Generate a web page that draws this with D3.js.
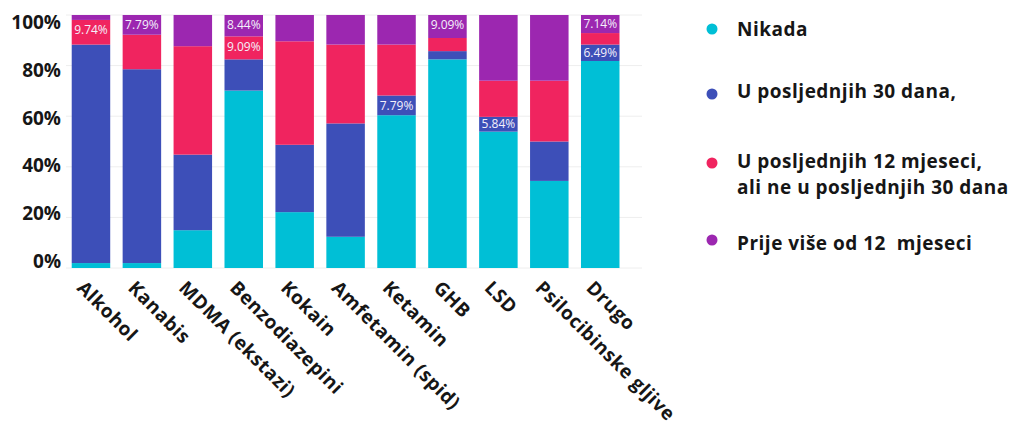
<!DOCTYPE html>
<html>
<head>
<meta charset="utf-8">
<script src="https://cdn.jsdelivr.net/npm/d3@7"></script>
<style>
  html, body { margin: 0; padding: 0; background: #fff; }
  svg { display: block; }
  .legend text { white-space: pre; }
</style>
</head>
<body>
<svg id="chart" width="1020" height="431"></svg>
<script>
// Categories (substances) along the x axis
const categories = ["Alkohol", "Kanabis", "MDMA (ekstazi)", "Benzodiazepini", "Kokain",
  "Amfetamin (spid)", "Ketamin", "GHB", "LSD", "Psilocibinske gljive", "Drugo"];

// Share of respondents (%) per answer
const nikada  = [1.95, 1.95, 14.94, 70.13, 22.08, 12.34, 60.39, 82.47, 53.90, 34.42, 81.82];
const dana30  = [86.36, 76.62, 29.87, 12.34, 26.62, 44.81, 7.79, 3.25, 5.84, 15.58, 6.49];
const mjeseci12 = [9.74, 13.64, 42.86, 9.09, 40.91, 31.17, 20.13, 5.19, 14.29, 24.03, 4.55];
const prije   = [1.95, 7.79, 12.34, 8.44, 10.39, 11.69, 11.69, 9.09, 25.97, 25.97, 7.14];

const seriesNames = ["Nikada", "U posljednjih 30 dana,",
  "U posljednjih 12 mjeseci,\nali ne u posljednjih 30 dana", "Prije više od 12  mjeseci"];
const seriesColors = ["#00BFD6", "#3D4FB8", "#F0245F", "#9C27B0"];
const yTicks = [0, 20, 40, 60, 80, 100];

const keys = ["nikada", "dana30", "mjeseci12", "prije"];
const columns = [nikada, dana30, mjeseci12, prije];
const rows = categories.map((c, i) => {
  const r = { cat: c };
  keys.forEach((k, j) => r[k] = columns[j][i]);
  return r;
});

const svg = d3.select("#chart");

const x = d3.scaleBand().domain(categories)
  .range([65.5, 625.7]).paddingInner(0.244).paddingOuter(0.122);
const y = d3.scaleLinear().domain([0, 100]).range([268, 15]);
// tick labels sit on their own slightly tighter spacing
const yLabel = d3.scaleLinear().domain([0, 100]).range([261.3, 22.5]);

// gridlines
svg.append("g").selectAll("line").data(yTicks).join("line")
  .attr("x1", 66).attr("x2", 642)
  .attr("y1", d => y(d)).attr("y2", d => y(d))
  .attr("stroke", "#eeeeee").attr("stroke-width", 1);

// y tick labels
const yAxis = svg.append("g").attr("transform", "translate(61,0)")
  .call(d3.axisLeft(yLabel).tickValues(yTicks).tickSize(0).tickPadding(0)
    .tickFormat(d => d + "%"));
yAxis.select(".domain").remove();
yAxis.selectAll("text")
  .attr("font-family", "'Open Sans', sans-serif")
  .attr("font-weight", 700)
  .attr("font-size", 19)
  .attr("fill", "#161616");

// stacked bars
const stacked = d3.stack().keys(keys)(rows);
const layers = svg.append("g").selectAll("g").data(stacked).join("g")
  .attr("fill", (d, i) => seriesColors[i]);
layers.selectAll("rect").data(d => d).join("rect")
  .attr("x", d => x(d.data.cat))
  .attr("width", x.bandwidth())
  .attr("y", d => y(d[1]))
  .attr("height", d => y(d[0]) - y(d[1]));

// value labels on the thin segments that have room for them
const labelData = [];
stacked.forEach(layer => layer.forEach(d => {
  const v = d.data[layer.key];
  if (v < 10 && v > 5.5) labelData.push({ cat: d.data.cat, v: v, top: d[1], bottom: d[0] });
}));
svg.append("g").selectAll("text").data(labelData).join("text")
  .attr("x", d => x(d.cat) + x.bandwidth() / 2)
  .attr("y", d => {
    const t = y(d.top), h = y(d.bottom) - y(d.top);
    return t + Math.min(10, h / 2);
  })
  .attr("dy", "0.35em")
  .attr("text-anchor", "middle")
  .attr("font-family", "'Open Sans', sans-serif")
  .attr("font-size", 12)
  .attr("fill", "#f4f0fb")
  .text(d => d.v.toFixed(2) + "%");

// rotated category labels
svg.append("g").selectAll("text").data(categories).join("text")
  .attr("transform", d => `translate(${x(d) + x.bandwidth() / 2 - 15},289) rotate(45)`)
  .attr("text-anchor", "start")
  .attr("font-family", "'Open Sans', sans-serif")
  .attr("font-weight", 700)
  .attr("font-size", 19)
  .attr("letter-spacing", "0.5px")
  .attr("fill", "#161616")
  .text(d => d);

// legend
const legendDot = [29, 94, 163, 240];
const legendBase = [36, 98, 168, 250];
const legend = svg.append("g").attr("class", "legend");
legend.selectAll("circle").data(seriesNames).join("circle")
  .attr("cx", 712).attr("cy", (d, i) => legendDot[i]).attr("r", 5.5)
  .attr("fill", (d, i) => seriesColors[i]);
legend.selectAll("text").data(seriesNames).join("text")
  .attr("x", 737).attr("y", (d, i) => legendBase[i])
  .attr("font-family", "'Open Sans', sans-serif")
  .attr("font-weight", 700)
  .attr("font-size", 19)
  .attr("letter-spacing", "0.5px")
  .attr("fill", "#161616")
  .each(function (d) {
    const lines = d.split("\n");
    d3.select(this).selectAll("tspan").data(lines).join("tspan")
      .attr("x", 737).attr("dy", (l, j) => j === 0 ? 0 : 26)
      .text(l => l);
  });
</script>
</body>
</html>
